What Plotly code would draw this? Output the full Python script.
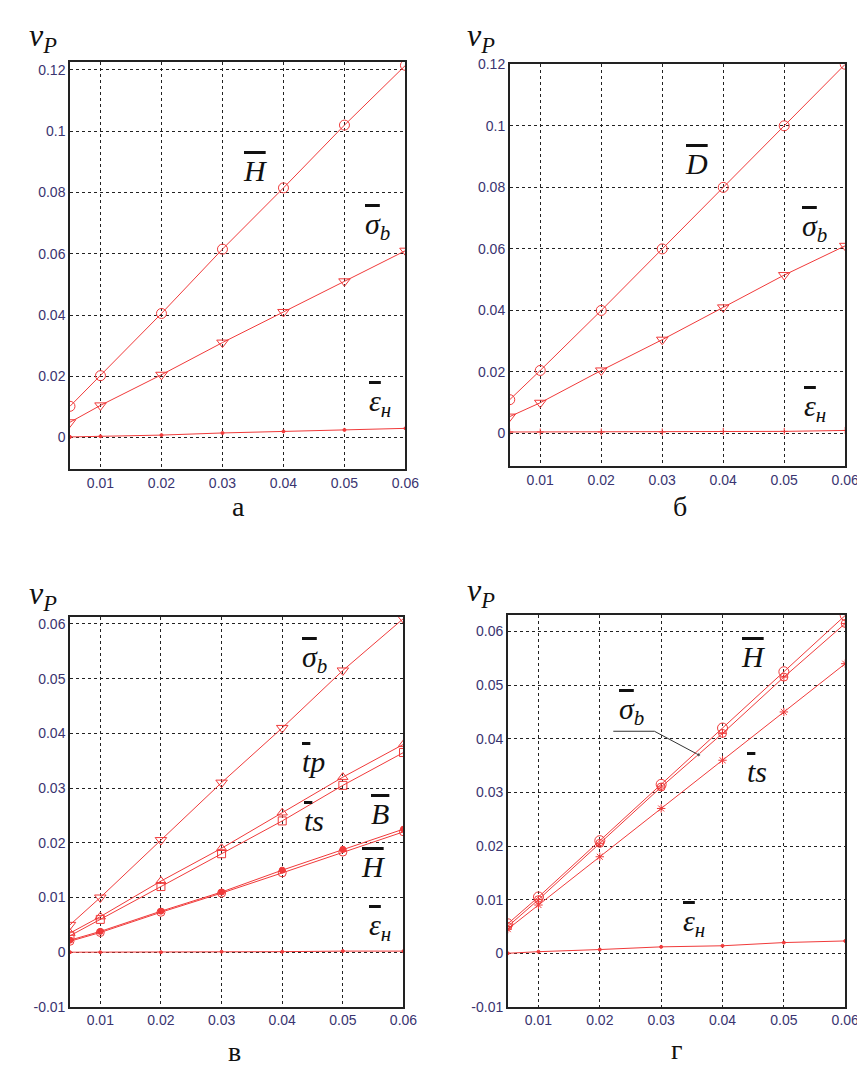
import plotly.graph_objects as go

W, H = 865, 1067

# x values (same on all panels)
x = [0.005, 0.01, 0.02, 0.03, 0.04, 0.05, 0.06]
xticks = [0.01, 0.02, 0.03, 0.04, 0.05, 0.06]
xtick_text = ["0.01", "0.02", "0.03", "0.04", "0.05", "0.06"]

# panel a
a_H = [0.0102, 0.0202, 0.0405, 0.0615, 0.0815, 0.1020, 0.1215]
a_sig = [0.0050, 0.0105, 0.0205, 0.0310, 0.0410, 0.0510, 0.0610]
a_eps = [0.0002, 0.0004, 0.0008, 0.0015, 0.0020, 0.0025, 0.0030]

# panel b
b_D = [0.0110, 0.0205, 0.0400, 0.0600, 0.0800, 0.1000, 0.1200]
b_sig = [0.0055, 0.0100, 0.0205, 0.0305, 0.0410, 0.0515, 0.0610]
b_eps = [0.0005, 0.0005, 0.0005, 0.0005, 0.0007, 0.0007, 0.0010]

# panel v
c_sig = [0.0050, 0.0100, 0.0205, 0.0310, 0.0410, 0.0515, 0.0610]
c_tp = [0.0035, 0.0065, 0.0130, 0.0190, 0.0255, 0.0320, 0.0380]
c_ts = [0.0030, 0.0060, 0.0120, 0.0180, 0.0240, 0.0305, 0.0365]
c_B = [0.0022, 0.0038, 0.0075, 0.0110, 0.0150, 0.0188, 0.0225]
c_H = [0.0020, 0.0036, 0.0073, 0.0108, 0.0145, 0.0183, 0.0220]
c_eps = [0.0000, 0.0000, 0.0000, 0.0001, 0.0001, 0.0002, 0.0002]

# panel g
d_H = [0.0055, 0.0105, 0.0210, 0.0315, 0.0420, 0.0525, 0.0630]
d_sig = [0.0050, 0.0100, 0.0205, 0.0310, 0.0410, 0.0515, 0.0615]
d_ts = [0.0045, 0.0090, 0.0180, 0.0270, 0.0360, 0.0450, 0.0540]
d_eps = [0.0000, 0.0003, 0.0007, 0.0012, 0.0014, 0.0020, 0.0023]

yt_top = [0, 0.02, 0.04, 0.06, 0.08, 0.1, 0.12]
yt_top_text = ["0", "0.02", "0.04", "0.06", "0.08", "0.1", "0.12"]
yt_bot = [-0.01, 0, 0.01, 0.02, 0.03, 0.04, 0.05, 0.06]
yt_bot_text = ["-0.01", "0", "0.01", "0.02", "0.03", "0.04", "0.05", "0.06"]

RED = "#f03a3a"
TICK = "#3a3470"
SERIF = "Liberation Serif, DejaVu Serif, serif"

def px(xp, yp):
    return xp / W, 1 - yp / H

fig = go.Figure()

def add(xa, ya, yv, sym, size=8):
    fig.add_trace(go.Scatter(
        x=x, y=yv, xaxis=xa, yaxis=ya, mode="lines+markers",
        line=dict(color=RED, width=1),
        marker=dict(symbol=sym, size=size, color=RED, line=dict(color=RED, width=1)),
        showlegend=False, hoverinfo="skip"))

add("x", "y", a_H, "circle-open", 10)
add("x", "y", a_sig, "triangle-down-open", 10)
add("x", "y", a_eps, "circle", 3)

add("x2", "y2", b_D, "circle-open", 10)
add("x2", "y2", b_sig, "triangle-down-open", 10)
add("x2", "y2", b_eps, "cross-thin-open", 5)

add("x3", "y3", c_sig, "triangle-down-open", 10)
add("x3", "y3", c_tp, "triangle-up-open", 9)
add("x3", "y3", c_ts, "square-open", 8)
add("x3", "y3", c_B, "circle", 6)
add("x3", "y3", c_H, "circle-open", 8)
add("x3", "y3", c_eps, "circle", 3)

add("x4", "y4", d_H, "circle-open", 10)
add("x4", "y4", d_sig, "circle-cross-open", 8)
add("x4", "y4", d_ts, "asterisk-open", 7)
add("x4", "y4", d_eps, "circle", 3)

# leader line for sigma_b label in panel g
fig.add_trace(go.Scatter(x=[0.0222, 0.0289, 0.0361], y=[0.0414, 0.0414, 0.0370],
                         xaxis="x4", yaxis="y4", mode="lines+markers",
                         line=dict(color="#333333", width=1),
                         marker=dict(size=[0, 0, 4], color="#333333"),
                         showlegend=False, hoverinfo="skip"))

# pixel boxes: (left, right, top, bottom)
boxes = [(63, 404, 47, 460), (510, 851, 49, 457), (63, 402, 610, 1006), (508, 851, 608, 1006)]
yranges = [[-0.0103, 0.1225], [-0.0106, 0.12], [-0.01, 0.0613], [-0.01, 0.0631]]

axis_common = dict(showline=True, mirror=True, linecolor="#222222", linewidth=1.5,
                   showgrid=True, gridcolor="#222222", gridwidth=1, griddash="3px,3px",
                   zeroline=False, ticks="", tickfont=dict(family="Liberation Sans, Arial", size=14, color=TICK))

for i, (l, r, t, b) in enumerate(boxes):
    sfx = "" if i == 0 else str(i + 1)
    fig.update_layout(**{
        "xaxis" + sfx: dict(axis_common, domain=[l / W, r / W], range=[0.005, 0.06],
                            tickvals=xticks, ticktext=xtick_text, anchor="y" + sfx),
        "yaxis" + sfx: dict(axis_common, domain=[1 - b / H, 1 - t / H], range=yranges[i],
                            tickvals=yt_top if i < 2 else yt_bot,
                            ticktext=yt_top_text if i < 2 else yt_bot_text,
                            anchor="x" + sfx),
    })

ann = []

def label(xp, yp, text, size=30):
    X, Y = px(xp, yp)
    ann.append(dict(x=X, y=Y, xref="paper", yref="paper", text=text, showarrow=False,
                    font=dict(family=SERIF, size=size, color="#111111"),
                    xanchor="center", yanchor="middle"))

def bar(s):
    return '<span style="text-decoration:overline">' + s + '</span>'

sig = "<i>" + bar("σ") + "<sub>b</sub></i>"
eps = "<i>" + bar("ε") + "<sub>н</sub></i>"

# nu_P labels
for xp, yp in [(36, 22), (481, 22), (36, 588), (481, 585)]:
    label(xp, yp, "<i>ν<sub>P</sub></i>", 32)

# panel letters
label(234, 498, "а", 28)
label(683, 498, "б", 28)
label(230, 1051, "в", 28)
label(680, 1049, "г", 28)

# panel a
label(252, 157, "<i>" + bar("H") + "</i>")
label(376, 213, sig)
label(378, 393, eps)
# panel b
label(700, 150, "<i>" + bar("D") + "</i>")
label(820, 215, sig)
label(820, 398, eps)
# panel v
label(312, 653, sig)
label(311, 757, "<i>" + bar("t") + "p</i>")
label(311, 817, "<i>" + bar("t") + "s</i>")
label(378, 810, "<i>" + bar("B") + "</i>")
label(372, 863, "<i>" + bar("H") + "</i>")
label(378, 925, eps)
# panel g
label(758, 650, "<i>" + bar("H") + "</i>")
label(634, 706, sig)
label(761, 767, "<i>" + bar("t") + "s</i>")
label(697, 921, eps)

fig.update_layout(width=W, height=H, margin=dict(l=0, r=0, t=0, b=0),
                  paper_bgcolor="white", plot_bgcolor="white", annotations=ann)

fig.write_html("out.html")
